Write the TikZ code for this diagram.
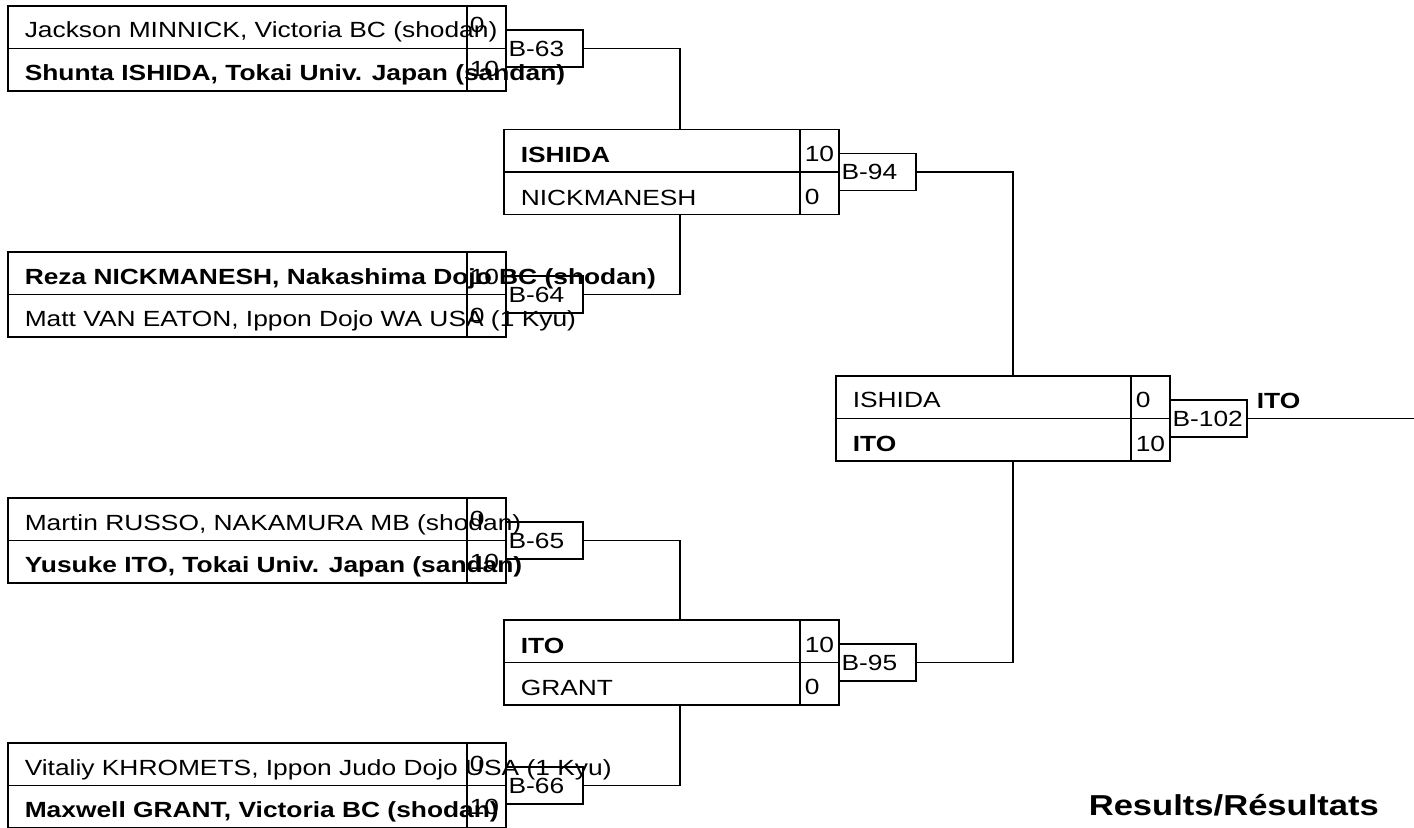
\documentclass[tikz,border=0pt]{standalone}
\usepackage{fontspec}
\setmainfont{Liberation Sans}[FakeStretch=1.2]
\newlength\pxl
\setlength\pxl{0.02cm}

\begin{document}
\begin{tikzpicture}[x=0.02cm, y=-0.02cm, line width=0.9pt,
    row/.style={draw, rectangle, anchor=north west, inner sep=0pt, outer sep=0pt, minimum height=42.5\pxl},
    score/.style={draw, rectangle, anchor=north east, inner sep=0pt, outer sep=0pt, minimum width=39\pxl, minimum height=42.5\pxl},
    bout/.style={draw, rectangle, anchor=west, inner xsep=2.5\pxl, inner ysep=0pt, outer sep=0pt, text width=72\pxl, minimum height=37\pxl, align=left, font=\fontsize{12.5}{14}\selectfont},
    txt/.style={anchor=base west, inner sep=0pt, font=\fontsize{12.5}{14}\selectfont},
    win/.style={anchor=base west, inner sep=0pt, font=\fontsize{12.5}{14}\selectfont\bfseries}]
    \useasboundingbox (0,0) rectangle (1414,828);
    % first round
    \node[row, minimum width=498\pxl] (m63a) at (8,6) {};
    \node[row, minimum width=498\pxl] (m63b) at (8,48.5) {};
    \node[score] (s63a) at (506,6) {};
    \node[score] (s63b) at (506,48.5) {};
    \node[txt] (p63a) at (24,38) {Jackson MINNICK, Victoria BC (shodan)};
    \node[win] (p63b) at (24,80.5) {Shunta ISHIDA, Tokai Univ. Japan (sandan)};
    \node[txt] (n63a) at (469,33) {0};
    \node[txt] (n63b) at (469,77) {10};
    \node[bout] (b63) at (506,48.5) {\mbox{B-63}};
    %
    \node[row, minimum width=498\pxl] (m64a) at (8,252) {};
    \node[row, minimum width=498\pxl] (m64b) at (8,294.5) {};
    \node[score] (s64a) at (506,252) {};
    \node[score] (s64b) at (506,294.5) {};
    \node[win] (p64a) at (24,284) {Reza NICKMANESH, Nakashima Dojo BC (shodan)};
    \node[txt] (p64b) at (24,326) {Matt VAN EATON, Ippon Dojo WA USA (1 Kyu)};
    \node[txt] (n64a) at (469,284) {10};
    \node[txt] (n64b) at (469,323) {0};
    \node[bout] (b64) at (506,294.5) {\mbox{B-64}};
    %
    \node[row, minimum width=498\pxl] (m65a) at (8,498) {};
    \node[row, minimum width=498\pxl] (m65b) at (8,540.5) {};
    \node[score] (s65a) at (506,498) {};
    \node[score] (s65b) at (506,540.5) {};
    \node[txt] (p65a) at (24,530) {Martin RUSSO, NAKAMURA MB (shodan)};
    \node[win] (p65b) at (24,572.5) {Yusuke ITO, Tokai Univ. Japan (sandan)};
    \node[txt] (n65a) at (469,526) {0};
    \node[txt] (n65b) at (469,569) {10};
    \node[bout] (b65) at (506,540.5) {\mbox{B-65}};
    %
    \node[row, minimum width=498\pxl] (m66a) at (8,743) {};
    \node[row, minimum width=498\pxl] (m66b) at (8,785.5) {};
    \node[score] (s66a) at (506,743) {};
    \node[score] (s66b) at (506,785.5) {};
    \node[txt] (p66a) at (24,775) {Vitaliy KHROMETS, Ippon Judo Dojo USA (1 Kyu)};
    \node[win] (p66b) at (24,817.5) {Maxwell GRANT, Victoria BC (shodan)};
    \node[txt] (n66a) at (469,771) {0};
    \node[txt] (n66b) at (469,814) {10};
    \node[bout] (b66) at (506,785.5) {\mbox{B-66}};
    % second round
    \node[row, minimum width=335\pxl] (m94a) at (504,129.5) {};
    \node[row, minimum width=335\pxl] (m94b) at (504,172) {};
    \node[score] (s94a) at (839,129.5) {};
    \node[score] (s94b) at (839,172) {};
    \node[win] (p94a) at (520,162.5) {ISHIDA};
    \node[txt] (p94b) at (520,205) {NICKMANESH};
    \node[txt] (n94a) at (804,162) {10};
    \node[txt] (n94b) at (804,204) {0};
    \node[bout] (b94) at (839,172) {\mbox{B-94}};
    %
    \node[row, minimum width=335\pxl] (m95a) at (504,620) {};
    \node[row, minimum width=335\pxl] (m95b) at (504,662.5) {};
    \node[score] (s95a) at (839,620) {};
    \node[score] (s95b) at (839,662.5) {};
    \node[win] (p95a) at (520,653) {ITO};
    \node[txt] (p95b) at (520,695.5) {GRANT};
    \node[txt] (n95a) at (804,652.5) {10};
    \node[txt] (n95b) at (804,694.5) {0};
    \node[bout] (b95) at (839,662.5) {\mbox{B-95}};
    % final
    \node[row, minimum width=334\pxl] (m102a) at (836,376) {};
    \node[row, minimum width=334\pxl] (m102b) at (836,418.5) {};
    \node[score] (s102a) at (1170,376) {};
    \node[score] (s102b) at (1170,418.5) {};
    \node[txt] (p102a) at (852,407) {ISHIDA};
    \node[win] (p102b) at (852,451) {ITO};
    \node[txt] (n102a) at (1135,407) {0};
    \node[txt] (n102b) at (1135,451) {10};
    \node[bout] (b102) at (1170,418.5) {\mbox{B-102}};
    \node[win] (champ) at (1256,408) {ITO};
    %
    \coordinate (j63) at (680,129.5);
    \coordinate (j64) at (680,214.5);
    \coordinate (j65) at (680,620);
    \coordinate (j66) at (680,705);
    \coordinate (j94) at (1013,376);
    \coordinate (j95) at (1013,461);
    \coordinate (end) at (1414,418.5);
    \draw (b63.east) -| (j63);
    \draw (b64.east) -| (j64);
    \draw (b65.east) -| (j65);
    \draw (b66.east) -| (j66);
    \draw (b94.east) -| (j94);
    \draw (b95.east) -| (j95);
    \draw (b102.east) -- (end);
    %
    \node[anchor=base west, inner sep=0pt, font=\fontsize{16.4}{18}\selectfont\bfseries] (results) at (1088,815) {Results/Résultats};
\end{tikzpicture}
\end{document}
